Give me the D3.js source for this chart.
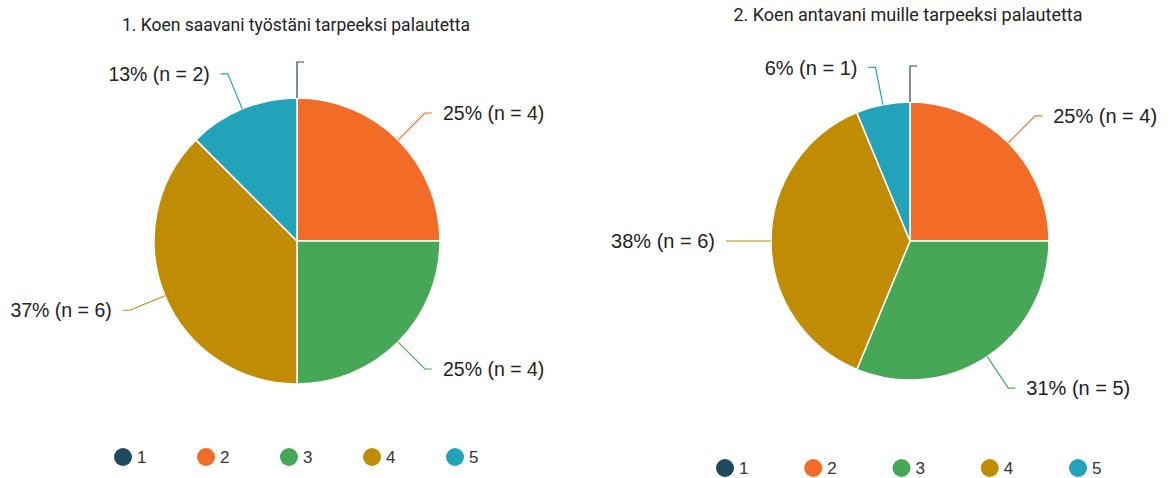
<!DOCTYPE html>
<html>
<head>
<meta charset="utf-8">
<script src="https://cdn.jsdelivr.net/npm/d3@7"></script>
<style>
  html, body { margin: 0; padding: 0; background: #fff; }
  svg { display: block; }
</style>
</head>
<body>
<svg id="chart" width="1171" height="478"></svg>
<script>
// Response categories (scale 1–5) and colours
const categories = ["1", "2", "3", "4", "5"];
const colors = ["#1e4a5f", "#f26b27", "#46a857", "#c08c04", "#22a3b9"];

// Question 1: counts per category and their percentage labels
const title1 = "1. Koen saavani työstäni tarpeeksi palautetta";
const counts1 = [0, 4, 4, 6, 2];
const pct1 = ["0%", "25%", "25%", "37%", "13%"];

// Question 2: counts per category and their percentage labels
const title2 = "2. Koen antavani muille tarpeeksi palautetta";
const counts2 = [0, 4, 5, 6, 1];
const pct2 = ["0%", "25%", "31%", "38%", "6%"];

const svg = d3.select("#chart");
const color = d3.scaleOrdinal().domain(categories).range(colors);
const labelFont = "'Liberation Sans', Arial, sans-serif";

function drawPie(cfg) {
  const g = svg.append("g");

  g.append("text")
    .attr("x", cfg.titleX).attr("y", cfg.titleY)
    .attr("text-anchor", "middle")
    .attr("font-family", "Roboto, sans-serif")
    .attr("font-size", cfg.titleSize)
    .attr("fill", "#222")
    .text(cfg.title);

  const data = categories.map((c, i) => ({ cat: c, n: cfg.counts[i], pct: cfg.pct[i] }));
  const pie = d3.pie().sort(null).value(d => d.n);
  const arcs = pie(data);
  const arc = d3.arc().innerRadius(0).outerRadius(cfg.r);

  const pg = g.append("g").attr("transform", `translate(${cfg.cx},${cfg.cy})`);

  pg.selectAll("path.slice")
    .data(arcs.filter(a => a.data.n > 0))
    .join("path")
    .attr("class", "slice")
    .attr("d", arc)
    .attr("fill", d => color(d.data.cat))
    .attr("stroke", "#fff")
    .attr("stroke-width", 1.5);

  // leader lines and labels
  arcs.forEach(a => {
    const mid = (a.startAngle + a.endAngle) / 2;
    const sx = Math.sin(mid), sy = -Math.cos(mid);
    const r1 = cfg.r, r2 = cfg.r + (a.data.n > 0 ? 38 : 36);
    const right = sx >= -1e-6;
    const dir = right ? 1 : -1;
    const p0 = [sx * r1, sy * r1];
    const p1 = [sx * r2, sy * r2];
    const p2 = [p1[0] + dir * 7, p1[1]];
    pg.append("path")
      .attr("d", d3.line()([p0, p1, p2]))
      .attr("fill", "none")
      .attr("stroke", color(a.data.cat))
      .attr("stroke-width", 1.2);
    if (a.data.n > 0) {
      pg.append("text")
        .attr("x", p2[0] + dir * 11)
        .attr("y", p2[1])
        .attr("dy", "0.36em")
        .attr("text-anchor", right ? "start" : "end")
        .attr("font-family", labelFont)
        .attr("font-size", cfg.labelSize)
        .attr("fill", "#222")
        .text(`${a.data.pct} (n = ${a.data.n})`);
    }
  });

  // legend
  const lx = d3.scalePoint().domain(categories).range(cfg.legendRange);
  const lg = g.append("g");
  const items = lg.selectAll("g").data(categories).join("g")
    .attr("transform", d => `translate(${lx(d)},${cfg.legendY})`);
  items.append("circle").attr("r", 9).attr("fill", d => color(d));
  items.append("text")
    .attr("x", 14).attr("dy", "0.36em")
    .attr("font-family", labelFont)
    .attr("font-size", 17)
    .attr("fill", "#333")
    .text(d => d);
}

drawPie({ title: title1, titleX: 296, titleY: 31, titleSize: 17.5, labelSize: 19.5,
          counts: counts1, pct: pct1,
          cx: 297, cy: 241, r: 143, legendRange: [123, 455], legendY: 457 });
drawPie({ title: title2, titleX: 908, titleY: 21, titleSize: 18, labelSize: 20,
          counts: counts2, pct: pct2,
          cx: 910, cy: 241, r: 139, legendRange: [725, 1078], legendY: 468 });
</script>
</body>
</html>
